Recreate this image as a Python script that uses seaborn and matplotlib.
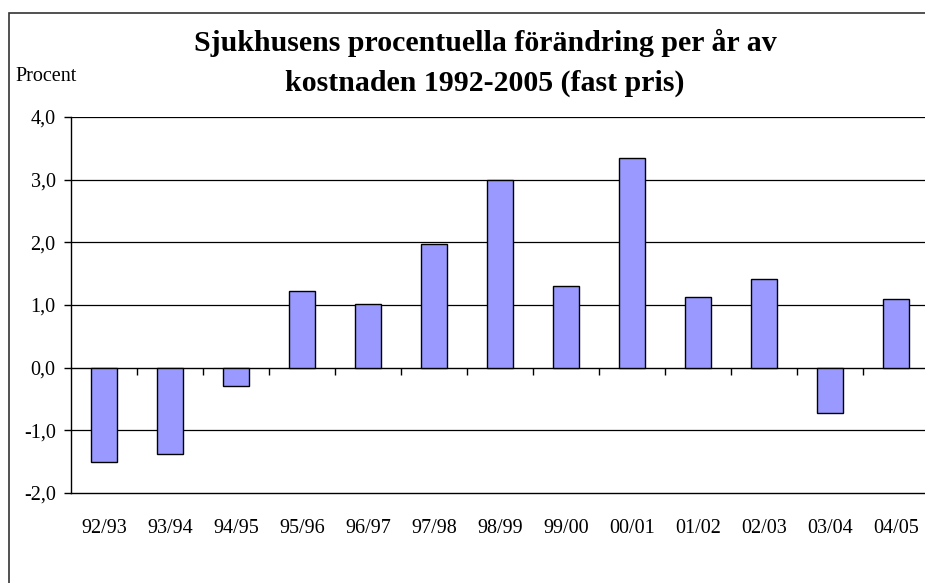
import matplotlib
matplotlib.use("Agg")
import matplotlib.pyplot as plt
import seaborn as sns
import pandas as pd
from matplotlib.patches import Rectangle

# Data
periods = ["92/93", "93/94", "94/95", "95/96", "96/97", "97/98", "98/99",
           "99/00", "00/01", "01/02", "02/03", "03/04", "04/05"]
change = [-1.51, -1.37, -0.29, 1.23, 1.02, 1.98, 3.00,
          1.31, 3.35, 1.12, 1.41, -0.73, 1.09]
yticks = [-2.0, -1.0, 0.0, 1.0, 2.0, 3.0, 4.0]

sns.set_style("white")
plt.rcParams['font.family'] = ['Liberation Serif', 'DejaVu Serif']
plt.rcParams['text.color'] = 'black'
plt.rcParams['xtick.color'] = 'black'
plt.rcParams['ytick.color'] = 'black'

df = pd.DataFrame({'period': periods, 'change': change})

W, H = 925, 583
fig = plt.figure(figsize=(W / 100, H / 100), dpi=100)
ax = fig.add_axes([71 / W, 1 - 493 / H, 858 / W, 376 / H])

sns.barplot(data=df, x='period', y='change', color='#9999FF',
            edgecolor='black', linewidth=1, width=0.39, saturation=1, ax=ax)

ax.set_ylim(-2, 4)
ax.set_xlim(-0.5, len(periods) - 0.5)
ax.set_yticks(yticks)
ax.set_yticklabels([f"{v:.1f}".replace('.', ',') for v in yticks], fontsize=14.5)
ax.tick_params(axis='y', direction='out', length=5, width=1, color='black',
               left=True, pad=6)
ax.tick_params(axis='x', length=0, pad=19, labelsize=14.5)
ax.set_xlabel('')
ax.set_ylabel('')

# horizontal gridlines
for v in yticks[1:]:
    if v != 0:
        ax.axhline(v, color='black', lw=0.9, zorder=0)

for s in ['top', 'right']:
    ax.spines[s].set_visible(False)
ax.spines['left'].set_color('black')
ax.spines['bottom'].set_color('black')
ax.spines['left'].set_linewidth(1)
ax.spines['bottom'].set_linewidth(1)

# zero axis with category separators
sec = ax.secondary_xaxis(2 / 6)
sec.set_xticks([i + 0.5 for i in range(len(periods) - 1)])
sec.set_xticklabels([])
sec.tick_params(direction='out', length=5, width=1, color='black')
sec.spines['bottom'].set_color('black')
sec.spines['bottom'].set_linewidth(1)

fig.text(485 / W, 1 - 43 / H, "Sjukhusens procentuella förändring per år av",
         ha='center', va='center', fontsize=21.5, fontweight='bold')
fig.text(485 / W, 1 - 83 / H, "kostnaden 1992-2005 (fast pris)",
         ha='center', va='center', fontsize=21.5, fontweight='bold')
fig.text(15 / W, 1 - 76 / H, "Procent", ha='left', va='center', fontsize=14.5)

# outer chart border
fig.patches.append(Rectangle((9 / W, -0.1), 1.2, 1.1 - 13 / H,
                             transform=fig.transFigure, fill=False,
                             edgecolor='#333333', lw=1.2))

fig.savefig('out.png', dpi=100)
